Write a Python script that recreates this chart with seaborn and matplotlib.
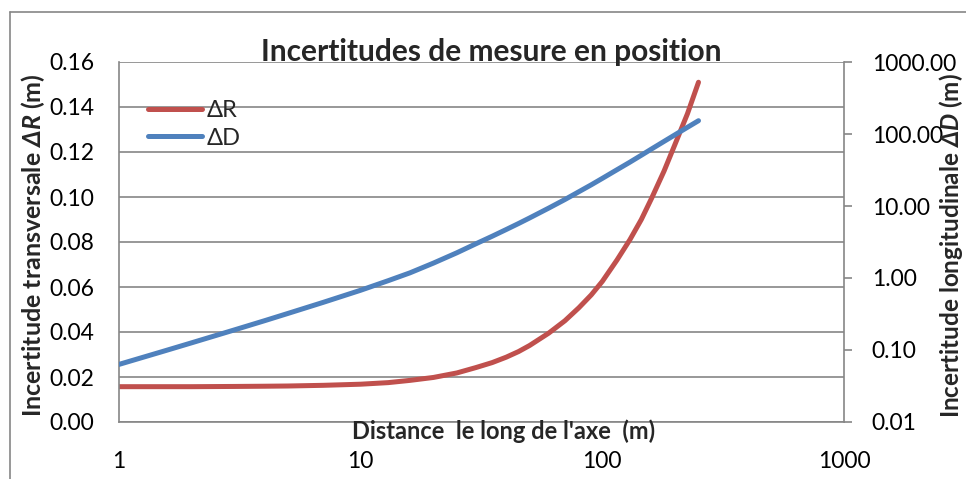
import numpy as np
import pandas as pd
import matplotlib
matplotlib.use("Agg")
import matplotlib.pyplot as plt
import seaborn as sns
from matplotlib.lines import Line2D

# ---- data ----
distance = [1, 1.5, 2, 3, 4, 5, 7, 10, 13, 16, 20, 25, 30, 35, 40, 45, 50, 60, 70,
            80, 90, 100, 115, 130, 145, 160, 180, 200, 225, 250]
delta_R = [0.0157, 0.0157, 0.0157, 0.0158, 0.0159, 0.0160, 0.0163, 0.0168, 0.0175,
           0.0185, 0.0198, 0.0218, 0.0242, 0.0264, 0.0288, 0.0313, 0.0340, 0.0395,
           0.0450, 0.0508, 0.0565, 0.0625, 0.0720, 0.0810, 0.0900, 0.0995, 0.1115,
           0.1235, 0.1370, 0.1510]
delta_D = [0.0631, 0.0944, 0.126, 0.190, 0.255, 0.322, 0.459, 0.676, 0.918, 1.18,
           1.61, 2.24, 2.99, 3.80, 4.71, 5.71, 6.82, 9.35, 12.3, 15.8, 19.7, 24.2,
           31.9, 40.6, 50.7, 62.1, 78.9, 97.7, 123.9, 153.0]
x_ticks = [1, 10, 100, 1000]
x_tick_labels = ["1", "10", "100", "1000"]
left_ticks = [0.00, 0.02, 0.04, 0.06, 0.08, 0.10, 0.12, 0.14, 0.16]
right_ticks = [0.01, 0.1, 1, 10, 100, 1000]

title = "Incertitudes de mesure en position"
xlabel = "Distance  le long de l'axe  (m)"
ylabel_left = r"Incertitude transversale $\mathbfit{\Delta R}$ (m)"
ylabel_right = r"Incertitude longitudinale $\mathbfit{\Delta D}$ (m)"
labels = ["ΔR", "ΔD"]

df = pd.DataFrame({"distance": distance, "dR": delta_R, "dD": delta_D})

sns.set_theme(style="white")
plt.rcParams["font.family"] = ["Lato", "DejaVu Sans"]
plt.rcParams["mathtext.fontset"] = "custom"
plt.rcParams["mathtext.bfit"] = "Lato:italic:bold"
plt.rcParams["mathtext.rm"] = "Lato"
plt.rcParams["mathtext.fallback"] = "stixsans"

RED = "#C0504D"
BLUE = "#4F81BD"
GRID = "#868686"
W, H = 966, 479
TICK_FS = 16.5
LAB_FS = 18

fig = plt.figure(figsize=(W / 100, H / 100), dpi=100)
ax = fig.add_axes([119 / W, 1 - 422 / H, (844 - 119) / W, (422 - 62) / H])
ax2 = ax.twinx()

sns.lineplot(data=df, x="distance", y="dR", ax=ax, color=RED, lw=3.6,
             solid_capstyle="round", legend=False)
sns.lineplot(data=df, x="distance", y="dD", ax=ax2, color=BLUE, lw=3.6,
             solid_capstyle="round", legend=False)

ax.set_xscale("log")
ax.set_xlim(1, 1000)
ax.set_ylim(0, 0.16)
ax2.set_yscale("log")
ax2.set_ylim(0.01, 1000)

ax.set_yticks(left_ticks)
ax.set_yticklabels([f"{v:.2f}" for v in left_ticks])
ax2.set_yticks(right_ticks)
ax2.set_yticklabels([f"{v:.2f}" for v in right_ticks])
ax2.yaxis.set_minor_locator(matplotlib.ticker.NullLocator())
ax.set_xticks(x_ticks)
ax.set_xticklabels(x_tick_labels)
ax.xaxis.set_minor_locator(matplotlib.ticker.NullLocator())

ax.grid(axis="y", color=GRID, lw=1.2)
ax.grid(axis="x", visible=False)
ax2.grid(False)

for a in (ax, ax2):
    for s in a.spines.values():
        s.set_visible(False)
for a, side in ((ax, "left"), (ax, "bottom"), (ax2, "right")):
    a.spines[side].set_visible(True)
    a.spines[side].set_color(GRID)
    a.spines[side].set_linewidth(1.2)

ax.tick_params(axis="y", length=0, pad=18, labelsize=TICK_FS, colors="black")
ax.tick_params(axis="x", length=0, pad=21, labelsize=TICK_FS, colors="black")
ax2.tick_params(axis="y", which="major", length=6, width=1.2, color=GRID,
                pad=14, labelsize=TICK_FS, labelcolor="black", direction="out")

ax.set_xlabel("")
ax.set_ylabel("")
ax2.set_ylabel("")

fig.text(33 / W, 1 - 245 / H, ylabel_left, rotation=90, ha="center", va="center",
         fontsize=LAB_FS, fontweight="bold")
fig.text(951 / W, 1 - 246 / H, ylabel_right, rotation=90, ha="center", va="center",
         fontsize=17.5, fontweight="bold")
fig.text(504 / W, 1 - 431 / H, xlabel, ha="center", va="center",
         fontsize=17, fontweight="bold")
fig.text(491 / W, 1 - 61 / H, title, ha="center", va="baseline",
         fontsize=21.5, fontweight="bold")

handles = [Line2D([], [], color=RED, lw=3.6, solid_capstyle="round"),
           Line2D([], [], color=BLUE, lw=3.6, solid_capstyle="round")]
ax2.legend(handles, labels, loc="upper left", bbox_to_anchor=(148 / W, 1 - 100 / H),
           bbox_transform=fig.transFigure, frameon=False, fontsize=17,
           handlelength=2.3, handletextpad=0.2, labelspacing=0.28,
           borderaxespad=0, borderpad=0)

# outer chart border
fig.add_artist(Line2D([10 / W, 10 / W], [0, 1 - 12 / H], transform=fig.transFigure,
                      color=GRID, lw=1.2))
fig.add_artist(Line2D([10 / W, 1], [1 - 12 / H, 1 - 12 / H], transform=fig.transFigure,
                      color=GRID, lw=1.2))

fig.savefig("out.png", dpi=100)
